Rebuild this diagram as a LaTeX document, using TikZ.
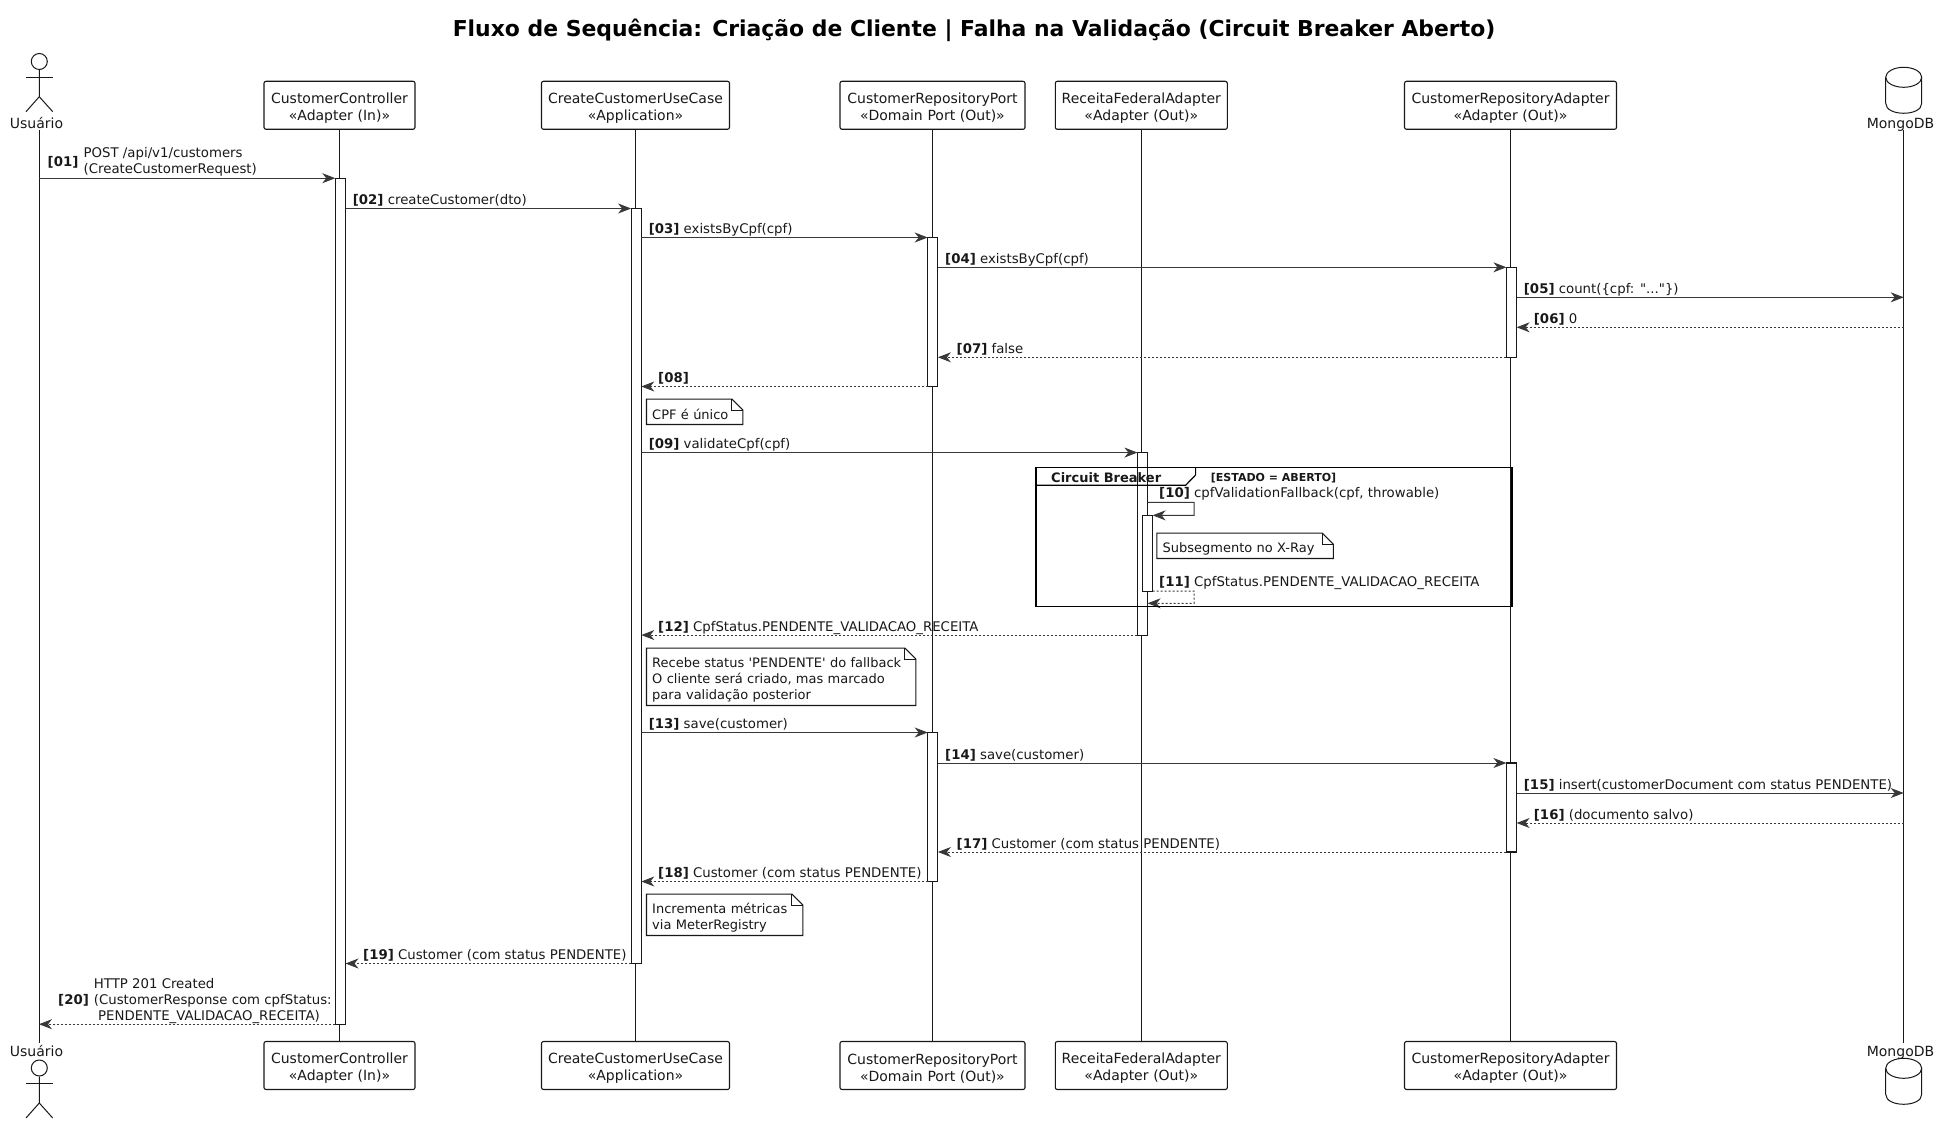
\documentclass[tikz,border=0pt]{standalone}
\usepackage{fontspec}
\setmainfont[Ligatures={TeXOff,NoCommon}]{DejaVu Sans}
\usetikzlibrary{arrows.meta}
\definecolor{linecol}{HTML}{181818}
\definecolor{tipcol}{HTML}{383838}
\tikzset{
    base/.style={font=\fontsize{13.3}{16}\selectfont,text=linecol},
    part/.style={font=\fontsize{14}{17}\selectfont,text=linecol,shape=rectangle,draw=linecol,line width=1.1pt,rounded corners=2pt,fill=white,align=center,minimum height=48pt,inner sep=0pt,text width=#1,execute at begin node=\rule{0pt}{16pt}},
    who/.style={font=\fontsize{14}{17}\selectfont,text=linecol,inner sep=0pt,anchor=base},
    lifeline/.style={draw=linecol,line width=1pt},
    bar/.style={shape=rectangle,draw=linecol,line width=1.1pt,fill=white,minimum width=10.2pt,inner sep=0pt,outer sep=0pt},
    msg/.style={base,anchor=base west,inner sep=0pt},
    sync/.style={draw=tipcol,line width=1pt,-{Stealth[length=13pt,width=10pt,inset=4pt,fill=tipcol]}},
    reply/.style={sync,dash pattern=on 2pt off 2pt},
    notebox/.style={font=\fontsize{13}{16}\selectfont,text=linecol,fill=white,inner xsep=5.5pt,inner ysep=0pt,align=left,execute at begin node=\rule{0pt}{16pt}},
    noteline/.style={draw=linecol,line width=1.1pt},
    stick/.style={draw=linecol,line width=1pt},
}
\begin{document}
\begin{tikzpicture}[x=1pt,y=-1pt]
    \useasboundingbox (0,0) rectangle (1940,1123);
    \node[font=\fontsize{21.9}{26}\selectfont\bfseries,text=black] (Title) at (974,30.5) {Fluxo de Sequência: Criação de Cliente | Falha na Validação (Circuit Breaker Aberto)};

    % lifeline ends
    \coordinate (UT) at (39,130);
    \coordinate (UB) at (39,1042.7);
    \coordinate (DT) at (1903.7,130);
    \coordinate (DB) at (1903.7,1042.7);
    \path (UT) edge[lifeline] (UB);
    \path (DT) edge[lifeline] (DB);

    % participants
    \node[who] (U1) at (36.5,128.7) {Usuário};
    \node[who] (U2) at (36.5,1056) {Usuário};
    \node[part=151pt] (C1) at (339.5,105.3) {CustomerController\\«Adapter (In)»};
    \node[part=151pt] (C2) at (339.5,1065.5) {CustomerController\\«Adapter (In)»};
    \node[part=188pt] (A1) at (635.5,105.3) {CreateCustomerUseCase\\«Application»};
    \node[part=188pt] (A2) at (635.5,1065.5) {CreateCustomerUseCase\\«Application»};
    \node[part=185pt] (P1) at (932.5,105.3) {CustomerRepositoryPort\\«Domain Port (Out)»};
    \node[part=185pt] (P2) at (932.5,1065.5) {CustomerRepositoryPort\\«Domain Port (Out)»};
    \node[part=172pt] (R1) at (1141.3,105.3) {ReceitaFederalAdapter\\«Adapter (Out)»};
    \node[part=172pt] (R2) at (1141.3,1065.5) {ReceitaFederalAdapter\\«Adapter (Out)»};
    \node[part=212pt] (G1) at (1510.5,105.3) {CustomerRepositoryAdapter\\«Adapter (Out)»};
    \node[part=212pt] (G2) at (1510.5,1065.5) {CustomerRepositoryAdapter\\«Adapter (Out)»};
    \node[who] (M1) at (1900.5,128.3) {MongoDB};
    \node[who] (M2) at (1900.5,1056) {MongoDB};

    % database
    \draw[stick] (1903.7,77.3) ellipse (18 and 10);
    \draw[stick] (1885.7,77.3) -- (1885.7,103.3) .. controls (1885.7,116.6) and (1921.7,116.6) .. (1921.7,103.3) -- (1921.7,77.3);
    \draw[stick] (1903.7,1068.3) ellipse (18 and 10);
    \draw[stick] (1885.7,1068.3) -- (1885.7,1094.3) .. controls (1885.7,1107.6) and (1921.7,1107.6) .. (1921.7,1094.3) -- (1921.7,1068.3);

    \path (C1) edge[lifeline] (C2);
    \path (A1) edge[lifeline] (A2);
    \path (P1) edge[lifeline] (P2);
    \path (R1) edge[lifeline] (R2);
    \path (G1) edge[lifeline] (G2);

    % actors
    \node[shape=circle,stick,minimum size=16pt,inner sep=0pt] (H1) at (39.3,61.5) {};
    \draw[stick] (H1) -- (39.3,96.7) -- (26,111.7);
    \draw[stick] (39.3,96.7) -- (52.7,111.7);
    \draw[stick] (26,77.3) -- (52.7,77.3);
    \node[shape=circle,stick,minimum size=16pt,inner sep=0pt] (H2) at (39.3,1068) {};
    \draw[stick] (H2) -- (39.3,1103) -- (26,1118);
    \draw[stick] (39.3,1103) -- (52.7,1118);
    \draw[stick] (26,1083.3) -- (52.7,1083.3);

    % activations
    \node[bar,minimum height=846pt] (aC) at (340.4,601.2) {};
    \node[bar,minimum height=755pt] (aA) at (636.2,586) {};
    \node[bar,minimum height=149pt] (aP1) at (932.8,312) {};
    \node[bar,minimum height=90pt] (aG1) at (1511.5,312.3) {};
    \node[bar,minimum height=182.5pt] (aR) at (1142.5,543.8) {};
    \node[bar,minimum height=75.7pt] (aRs) at (1147.5,553.2) {};
    \node[bar,minimum height=149pt] (aP2) at (932.8,807) {};
    \node[bar,minimum height=89pt] (aG2) at (1511.5,807.5) {};

    % message ends
    \coordinate (t01) at (aC.north west);   \coordinate (s01) at (39,178.2);
    \coordinate (t02) at (aA.north west);   \coordinate (s02) at (aC.east |- t02);
    \coordinate (t03) at (aP1.north west);  \coordinate (s03) at (aA.east |- t03);
    \coordinate (t04) at (aG1.north west);  \coordinate (s04) at (aP1.east |- t04);
    \coordinate (s05) at (1516.6,297.3); \coordinate (t05) at (1903.7,297.3);
    \coordinate (s06) at (1903.7,327.3); \coordinate (t06) at (1516.6,327.3);
    \coordinate (s07) at (aG1.south west);  \coordinate (t07) at (aP1.east |- s07);
    \coordinate (s08) at (aP1.south west);  \coordinate (t08) at (aA.east |- s08);
    \coordinate (t09) at (aR.north west);   \coordinate (s09) at (aA.east |- t09);
    \coordinate (s12) at (aR.south west);   \coordinate (t12) at (aA.east |- s12);
    \coordinate (t13) at (aP2.north west);  \coordinate (s13) at (aA.east |- t13);
    \coordinate (t14) at (aG2.north west);  \coordinate (s14) at (aP2.east |- t14);
    \coordinate (s15) at (1516.6,793); \coordinate (t15) at (1903.7,793);
    \coordinate (s16) at (1903.7,823); \coordinate (t16) at (1516.6,823);
    \coordinate (s17) at (aG2.south west);  \coordinate (t17) at (aP2.east |- s17);
    \coordinate (s18) at (aP2.south west);  \coordinate (t18) at (aA.east |- s18);
    \coordinate (s19) at (aA.south west);   \coordinate (t19) at (aC.east |- s19);
    \coordinate (s20) at (aC.south west);   \coordinate (t20) at (39,1024.2);

    \path (s01) edge[sync] (t01);
    \path (s02) edge[sync] (t02);
    \path (s03) edge[sync] (t03);
    \path (s04) edge[sync] (t04);
    \path (s05) edge[sync] (t05);
    \path (s06) edge[reply] (t06);
    \path (s07) edge[reply] (t07);
    \path (s08) edge[reply] (t08);
    \path (s09) edge[sync] (t09);
    \path (s12) edge[reply] (t12);
    \path (s13) edge[sync] (t13);
    \path (s14) edge[sync] (t14);
    \path (s15) edge[sync] (t15);
    \path (s16) edge[reply] (t16);
    \path (s17) edge[reply] (t17);
    \path (s18) edge[reply] (t18);
    \path (s19) edge[reply] (t19);
    \path (s20) edge[reply] (t20);

    % self calls
    \coordinate (s10) at (1147.6,502.3);
    \coordinate (b10) at (1194,502.3);
    \coordinate (c10) at (1194,515.4);
    \coordinate (t10) at (aRs.north east);
    \coordinate (s11) at (aRs.south east);
    \coordinate (b11) at (1194,591);
    \coordinate (c11) at (1194,603.3);
    \coordinate (t11) at (1147.6,603.3);
    \draw[sync] (s10) -- (b10) -- (c10) -- (t10);
    \draw[reply] (s11) -- (b11) -- (c11) -- (t11);

    % labels
    \node[msg] (l01) at (47.5,166.5) {\textbf{[01]}};
    \node[msg] (l01a) at (83.5,158) {POST /api/v1/customers};
    \node[msg] (l01b) at (83.5,174) {(CreateCustomerRequest)};
    \node[msg] (l02) at (352.7,204.4) {\textbf{[02]} createCustomer(dto)};
    \node[msg] (l03) at (648.6,233.5) {\textbf{[03]} existsByCpf(cpf)};
    \node[msg] (l04) at (945,263.3) {\textbf{[04]} existsByCpf(cpf)};
    \node[msg] (l05) at (1523.7,293.3) {\textbf{[05]} count(\{cpf: "..."\})};
    \node[msg] (l06) at (1533.7,323.3) {\textbf{[06]} 0};
    \node[msg] (l07) at (956.5,353.3) {\textbf{[07]} false};
    \node[msg] (l08) at (658,382.5) {\textbf{[08]}};
    \node[msg] (l09) at (648.6,448) {\textbf{[09]} validateCpf(cpf)};
    \node[msg] (l10) at (1159,497) {\textbf{[10]} cpfValidationFallback(cpf, throwable)};
    \node[msg] (l11) at (1159,586) {\textbf{[11]} CpfStatus.PENDENTE\_VALIDACAO\_RECEITA};
    \node[msg] (l12) at (658,631.3) {\textbf{[12]} CpfStatus.PENDENTE\_VALIDACAO\_RECEITA};
    \node[msg] (l13) at (648.6,728.5) {\textbf{[13]} save(customer)};
    \node[msg] (l14) at (945,759) {\textbf{[14]} save(customer)};
    \node[msg] (l15) at (1523.7,789) {\textbf{[15]} insert(customerDocument com status PENDENTE)};
    \node[msg] (l16) at (1533.7,819) {\textbf{[16]} (documento salvo)};
    \node[msg] (l17) at (956.5,848) {\textbf{[17]} Customer (com status PENDENTE)};
    \node[msg] (l18) at (658,877.5) {\textbf{[18]} Customer (com status PENDENTE)};
    \node[msg] (l19) at (363,959.5) {\textbf{[19]} Customer (com status PENDENTE)};
    \node[msg] (l20) at (58,1004.5) {\textbf{[20]}};
    \node[msg] (l20a) at (93.7,988) {HTTP 201 Created};
    \node[msg] (l20b) at (93.7,1004.5) {(CustomerResponse com cpfStatus:};
    \node[msg] (l20c) at (98,1020.5) {PENDENTE\_VALIDACAO\_RECEITA)};

    % notes
    \node[notebox,text width=85pt,minimum height=25pt] (N1) at (694.7,411.8) {CPF é único};
    \node[notebox,text width=258pt,minimum height=57pt] (N2) at (781.2,676.8) {Recebe status 'PENDENTE' do fallback\\O cliente será criado, mas marcado\\para validação posterior};
    \node[notebox,text width=145pt,minimum height=41pt] (N3) at (724.7,914.8) {Incrementa métricas\\via MeterRegistry};
    \node[notebox,text width=165pt,minimum height=25pt] (N4) at (1245.1,545.8) {Subsegmento no X-Ray};
    \draw[noteline] (N1.north west) -- ([xshift=-11pt]N1.north east) -- ([yshift=-11pt]N1.north east) -- (N1.south east) -- (N1.south west) -- cycle;
    \draw[noteline] (N2.north west) -- ([xshift=-11pt]N2.north east) -- ([yshift=-11pt]N2.north east) -- (N2.south east) -- (N2.south west) -- cycle;
    \draw[noteline] (N3.north west) -- ([xshift=-11pt]N3.north east) -- ([yshift=-11pt]N3.north east) -- (N3.south east) -- (N3.south west) -- cycle;
    \draw[noteline] (N4.north west) -- ([xshift=-11pt]N4.north east) -- ([yshift=-11pt]N4.north east) -- (N4.south east) -- (N4.south west) -- cycle;
    \draw[noteline] ([xshift=-11pt]N1.north east) |- ([yshift=-11pt]N1.north east);
    \draw[noteline] ([xshift=-11pt]N2.north east) |- ([yshift=-11pt]N2.north east);
    \draw[noteline] ([xshift=-11pt]N3.north east) |- ([yshift=-11pt]N3.north east);
    \draw[noteline] ([xshift=-11pt]N4.north east) |- ([yshift=-11pt]N4.north east);

    % frame
    \node[shape=rectangle,draw=black,line width=1.2pt,minimum width=476pt,minimum height=138.7pt,inner sep=0pt] (F) at (1274,536.8) {};
    \draw[black,line width=1.2pt] (1036,485.3) -- (1185.6,485.3) -- (1195.6,475) -- (1195.6,467.3);
    \node[msg,font=\fontsize{13}{16}\selectfont\bfseries] (Ft) at (1051,482) {Circuit Breaker};
    \node[msg,font=\fontsize{11}{14}\selectfont\bfseries] (Fg) at (1210.7,481.5) {[ESTADO = ABERTO]};
\end{tikzpicture}
\end{document}
